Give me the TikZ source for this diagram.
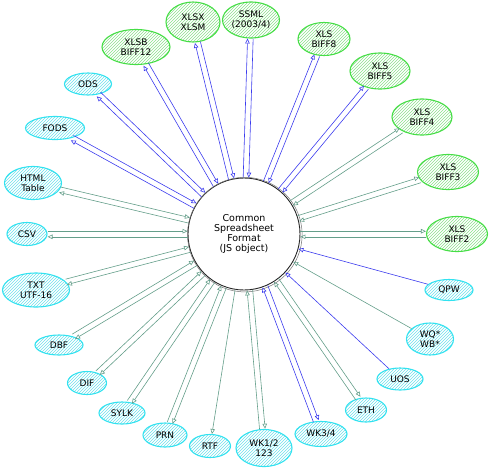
\documentclass[tikz,border=0pt]{standalone}
\usepackage{fontspec}
\setmainfont{DejaVu Sans}
\usetikzlibrary{shapes.geometric,arrows.meta,patterns,calc}
\definecolor{gborder}{RGB}{70,222,70}
\definecolor{ghatch}{RGB}{140,224,140}
\definecolor{cborder}{RGB}{50,226,240}
\definecolor{chatch}{RGB}{110,224,236}
\definecolor{eblue}{RGB}{60,60,238}
\definecolor{egray}{RGB}{100,158,138}
\newcommand\edgeout[2]{%
  \draw[arr,#2] let \p1=(c), \p2=(#1), \n1={atan2(\y2-\y1,\x2-\x1)}, \n2={\n1+180} in
    ($(c.\n1)!2.8pt!90:(#1.\n2)$) -- ($(#1.\n2)!2.8pt!-90:(c.\n1)$);}
\newcommand\edgein[2]{%
  \draw[arr,#2] let \p1=(c), \p2=(#1), \n1={atan2(\y2-\y1,\x2-\x1)}, \n2={\n1+180} in
    ($(#1.\n2)!2.8pt!90:(c.\n1)$) -- ($(c.\n1)!2.8pt!-90:(#1.\n2)$);}
\begin{document}
\begin{tikzpicture}[x=1pt,y=-1pt,
  fmt/.style={ellipse, inner sep=0pt, align=center, text=black,
    font=\fontsize{9}{9.8}\selectfont},
  gfmt/.style={fmt, draw=gborder, line width=1.1pt, pattern=north east lines, pattern color=ghatch},
  cfmt/.style={fmt, draw=cborder, line width=1.1pt, pattern=north east lines, pattern color=chatch},
  arr/.style={-{Triangle[open,length=5pt,width=4.5pt]}, line width=0.6pt},
  hub/.style={circle, draw=black!85, line width=0.9pt, inner sep=0pt, minimum size=112pt,
    align=center, font=\fontsize{9.5}{10.2}\selectfont}
]
\useasboundingbox (0,0) rectangle (489,469);
\node[hub] (c) at (244,234) {Common\\Spreadsheet\\Format\\(JS object)};
\draw[black!55, line width=0.5pt] ($(c)+(0.8,0.6)$) circle (57.3);
% green formats
\node[gfmt, minimum width=68pt, minimum height=35pt] (xlsb) at (136,47) {XLSB\\BIFF12};
\node[gfmt, minimum width=54pt, minimum height=40pt] (xlsx) at (193,22) {XLSX\\XLSM};
\node[gfmt, minimum width=57pt, minimum height=36pt] (ssml) at (251,20) {SSML\\(2003/4)};
\node[gfmt, minimum width=52pt, minimum height=33pt] (biff8) at (324,39) {XLS\\BIFF8};
\node[gfmt, minimum width=60pt, minimum height=36pt] (biff5) at (380,71) {XLS\\BIFF5};
\node[gfmt, minimum width=60pt, minimum height=36pt] (biff4) at (422,117) {XLS\\BIFF4};
\node[gfmt, minimum width=61pt, minimum height=35pt] (biff3) at (448,172) {XLS\\BIFF3};
\node[gfmt, minimum width=61pt, minimum height=35pt] (biff2) at (457,234) {XLS\\BIFF2};
% cyan formats
\node[cfmt, minimum width=48pt, minimum height=21pt] (qpw) at (449,290) {QPW};
\node[cfmt, minimum width=47pt, minimum height=32pt] (wq) at (430,339) {WQ*\\WB*};
\node[cfmt, minimum width=46pt, minimum height=22pt] (uos) at (400,379) {UOS};
\node[cfmt, minimum width=41pt, minimum height=24pt] (eth) at (366,410) {ETH};
\node[cfmt, minimum width=52pt, minimum height=25pt] (wk34) at (321,434) {WK3/4};
\node[cfmt, minimum width=56pt, minimum height=37pt] (wk12) at (264,448) {WK1/2\\123};
\node[cfmt, minimum width=41pt, minimum height=23pt] (rtf) at (210,446) {RTF};
\node[cfmt, minimum width=44pt, minimum height=24pt] (prn) at (165,435) {PRN};
\node[cfmt, minimum width=46pt, minimum height=22pt] (sylk) at (122,413) {SYLK};
\node[cfmt, minimum width=39pt, minimum height=23pt] (dif) at (87,383) {DIF};
\node[cfmt, minimum width=48pt, minimum height=20pt] (dbf) at (59,345) {DBF};
\node[cfmt, minimum width=67pt, minimum height=34pt] (txt) at (36,290) {TXT\\UTF-16};
\node[cfmt, minimum width=40pt, minimum height=23pt] (csv) at (27,234) {CSV};
\node[cfmt, minimum width=57pt, minimum height=33pt] (html) at (33,183) {HTML\\Table};
\node[cfmt, minimum width=59pt, minimum height=23pt] (fods) at (55,128) {FODS};
\node[cfmt, minimum width=47pt, minimum height=22pt] (ods) at (88,84) {ODS};
% two-way connectors
\foreach \nd/\col in {xlsb/eblue, xlsx/eblue, ssml/eblue, biff8/eblue, biff5/eblue,
  biff4/egray, biff3/egray, biff2/egray, eth/egray, wk34/eblue, wk12/egray,
  prn/egray, sylk/egray, dif/egray, dbf/egray, txt/egray, csv/egray, html/egray,
  fods/eblue, ods/eblue}{%
  \edgeout{\nd}{\col}
  \edgein{\nd}{\col}
}
% one-way connectors
\draw[arr,eblue] (qpw) -- (c);
\draw[arr,egray] (wq) -- (c);
\draw[arr,eblue] (uos) -- (c);
\draw[arr,egray] (c) -- (rtf);
\end{tikzpicture}
\end{document}
